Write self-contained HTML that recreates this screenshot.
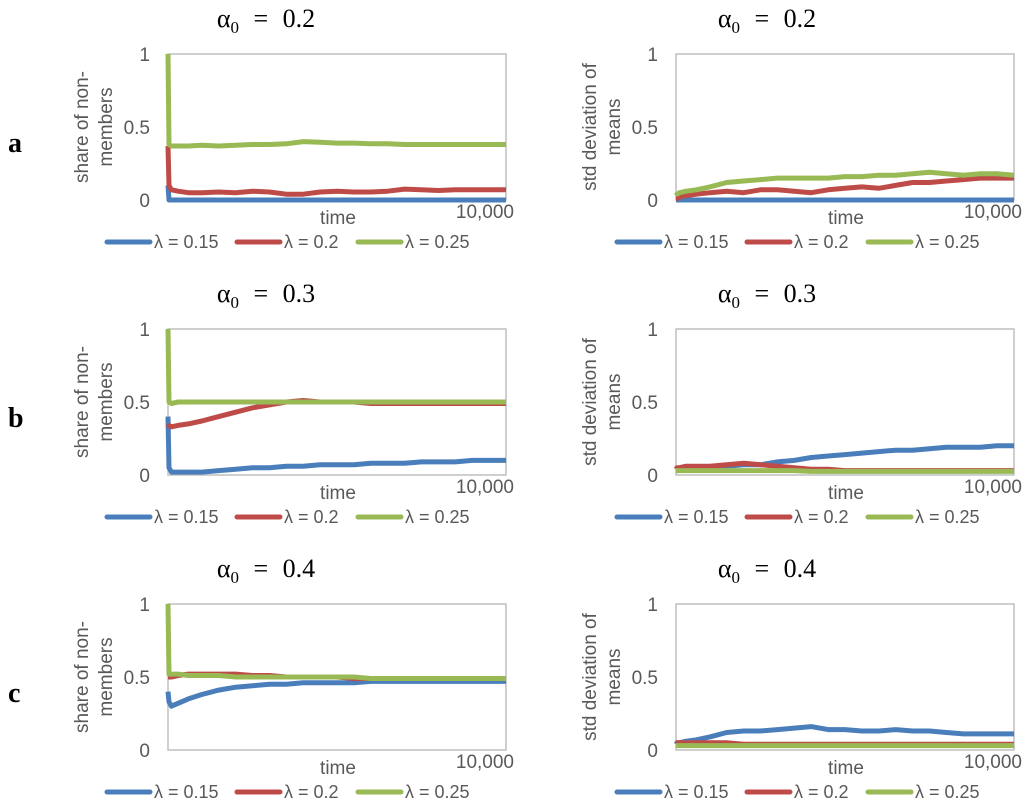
<!DOCTYPE html>
<html><head><meta charset="utf-8"><style>
body{margin:0;background:#fff;width:1024px;height:806px;overflow:hidden}
svg{display:block}
text{font-family:"Liberation Sans",sans-serif;fill:#595959}
.ttl{font-family:"Liberation Serif","DejaVu Serif",serif;fill:#000;font-size:26px;word-spacing:8px}
.let{font-family:"Liberation Serif",serif;fill:#000;font-size:28px;font-weight:bold}
</style></head><body>
<svg id="chart" width="1024" height="806"></svg>
<script>
const times=[0,30,100,300,600,1000,1500,2000,2500,3000,3500,4000,4500,5000,5500,6000,6500,7000,7500,8000,8500,9000,9500,10000];
const seriesNames=["λ = 0.15","λ = 0.2","λ = 0.25"];
const yTicks=[0,0.5,1];
const yTickLabels=["0","0.5","1"];
const alphaLabels=["0.2","0.3","0.4"];
const rowLetters=["a","b","c"];
// a-left
const aL_blue=[0.1,0,0,0,0,0,0,0,0,0,0,0,0,0,0,0,0,0,0,0,0,0,0,0];
const aL_red=[0.37,0.1,0.07,0.06,0.05,0.05,0.055,0.05,0.06,0.055,0.04,0.04,0.055,0.06,0.055,0.055,0.06,0.075,0.07,0.065,0.07,0.07,0.07,0.07];
const aL_green=[1,0.38,0.37,0.37,0.37,0.375,0.37,0.375,0.38,0.38,0.385,0.4,0.395,0.39,0.39,0.385,0.385,0.38,0.38,0.38,0.38,0.38,0.38,0.38];
// a-right
const aR_blue=[0,0,0,0,0,0,0,0,0,0,0,0,0,0,0,0,0,0,0,0,0,0,0,0];
const aR_red=[0.01,0.01,0.02,0.03,0.04,0.05,0.06,0.05,0.07,0.07,0.06,0.05,0.07,0.08,0.09,0.08,0.1,0.12,0.12,0.13,0.14,0.15,0.15,0.15];
const aR_green=[0.03,0.04,0.05,0.06,0.07,0.09,0.12,0.13,0.14,0.15,0.15,0.15,0.15,0.16,0.16,0.17,0.17,0.18,0.19,0.18,0.17,0.18,0.18,0.17];
// b-left
const bL_blue=[0.4,0.05,0.02,0.02,0.02,0.02,0.03,0.04,0.05,0.05,0.06,0.06,0.07,0.07,0.07,0.08,0.08,0.08,0.09,0.09,0.09,0.1,0.1,0.1];
const bL_red=[0.35,0.34,0.33,0.34,0.35,0.37,0.4,0.43,0.46,0.48,0.5,0.51,0.5,0.5,0.5,0.49,0.49,0.49,0.49,0.49,0.49,0.49,0.49,0.49];
const bL_green=[1,0.5,0.49,0.5,0.5,0.5,0.5,0.5,0.5,0.5,0.5,0.5,0.5,0.5,0.5,0.5,0.5,0.5,0.5,0.5,0.5,0.5,0.5,0.5];
// b-right
const bR_blue=[0.03,0.03,0.04,0.04,0.05,0.05,0.06,0.07,0.07,0.09,0.1,0.12,0.13,0.14,0.15,0.16,0.17,0.17,0.18,0.19,0.19,0.19,0.2,0.2];
const bR_red=[0.04,0.05,0.05,0.06,0.06,0.06,0.07,0.08,0.07,0.06,0.05,0.04,0.04,0.03,0.03,0.03,0.03,0.03,0.03,0.03,0.03,0.03,0.03,0.03];
const bR_green=[0.03,0.03,0.03,0.03,0.03,0.03,0.03,0.03,0.03,0.03,0.03,0.025,0.025,0.025,0.025,0.025,0.025,0.025,0.025,0.025,0.025,0.025,0.025,0.025];
// c-left
const cL_blue=[0.4,0.33,0.3,0.32,0.35,0.38,0.41,0.43,0.44,0.45,0.45,0.46,0.46,0.46,0.46,0.47,0.47,0.47,0.47,0.47,0.47,0.47,0.47,0.47];
const cL_red=[0.5,0.5,0.5,0.51,0.52,0.52,0.52,0.52,0.51,0.51,0.5,0.5,0.5,0.5,0.49,0.49,0.49,0.49,0.49,0.49,0.49,0.49,0.49,0.49];
const cL_green=[1,0.52,0.52,0.52,0.51,0.51,0.51,0.5,0.5,0.5,0.5,0.5,0.5,0.5,0.5,0.49,0.49,0.49,0.49,0.49,0.49,0.49,0.49,0.49];
// c-right
const cR_blue=[0.04,0.05,0.05,0.06,0.07,0.09,0.12,0.13,0.13,0.14,0.15,0.16,0.14,0.14,0.13,0.13,0.14,0.13,0.13,0.12,0.11,0.11,0.11,0.11];
const cR_red=[0.05,0.05,0.05,0.05,0.05,0.05,0.05,0.04,0.04,0.04,0.04,0.04,0.04,0.04,0.04,0.04,0.04,0.04,0.04,0.04,0.04,0.04,0.04,0.04];
const cR_green=[0.03,0.03,0.03,0.03,0.03,0.03,0.03,0.03,0.03,0.03,0.03,0.03,0.03,0.03,0.03,0.03,0.03,0.03,0.03,0.03,0.03,0.03,0.03,0.03];

const colors=["#4a7ebb","#be4b48","#98b954"];
const svg=document.getElementById('chart');
const NS="http://www.w3.org/2000/svg";
function mk(tag,attrs,parent){const e=document.createElementNS(NS,tag);for(const k in attrs)e.setAttribute(k,attrs[k]);(parent||svg).appendChild(e);return e;}
function txt(s,x,y,attrs,parent){const e=mk('text',Object.assign({x:x,y:y},attrs),parent);e.textContent=s;return e;}

const panels=[
 {r:0,c:0,d:[aL_blue,aL_red,aL_green]},{r:0,c:1,d:[aR_blue,aR_red,aR_green]},
 {r:1,c:0,d:[bL_blue,bL_red,bL_green]},{r:1,c:1,d:[bR_blue,bR_red,bR_green]},
 {r:2,c:0,d:[cL_blue,cL_red,cL_green]},{r:2,c:1,d:[cR_blue,cR_red,cR_green]}];
const rowTop=[54,329,604], colLeft=[168,676];
const W=338,H=146;
const yTitles=[["share of non-","members"],["std deviation of","means"]];
const legX=[[107,237,358],[617,747,868]];

rowLetters.forEach((l,i)=>{
 const t=txt(l,8,152+i*275,{class:'let'});
 
 
});

panels.forEach(p=>{
 const g=mk('g',{});
 
 
 const x0=colLeft[p.c], y0=rowTop[p.r];
 const sx=t=>x0+t/10000*W;
 const sy=v=>y0+H-v*H;
 const t=mk('text',{x:x0+W*0.29+(p.c?-7:0),y:y0-27,class:'ttl','text-anchor':'middle'},g);
 t.innerHTML='α<tspan dy="6" font-size="17">0</tspan><tspan dy="-6"> = '+alphaLabels[p.r]+'</tspan>';
 
 
 const box=mk('rect',{x:x0,y:y0,width:W,height:H,fill:'none',stroke:'#bfbfbf','stroke-width':1.5},g);
 
 
 yTicks.forEach((v,i)=>{
  const tk=txt(yTickLabels[i],x0-18,sy(v)+7,{'font-size':19,'text-anchor':'end'},g);
  
  
 });
 const yt=mk('text',{transform:'translate('+(x0-76)+','+(y0+H/2)+') rotate(-90)','font-size':19,'text-anchor':'middle'},g);
 yt.innerHTML='<tspan x="0" dy="-4">'+yTitles[p.c][0]+'</tspan><tspan x="0" dy="24">'+yTitles[p.c][1]+'</tspan>';
 
 
 const xt=txt('time',x0+170,y0+H+24,{'font-size':19,'text-anchor':'middle'},g);
 
 
 const xe=txt('10,000',x0+W+8,y0+H+18,{'font-size':19,'text-anchor':'end'},g);
 
 
 p.d.forEach((vals,si)=>{
  const pts=vals.map((v,i)=>sx(times[i]).toFixed(1)+','+sy(v).toFixed(1)).join(' ');
  const pl=mk('polyline',{points:pts,fill:'none',stroke:colors[si],'stroke-width':5,'stroke-linejoin':'round'},g);
  
  
 });
 const ly=y0+H+42;
 seriesNames.forEach((n,si)=>{
  const lx=legX[p.c][si];
  const lg=mk('g',{},g);
  
  
  mk('line',{x1:lx,y1:ly,x2:lx+43,y2:ly,stroke:colors[si],'stroke-width':5,'stroke-linecap':'round'},lg);
  txt(n,lx+47,ly+6,{'font-size':18},lg);
 });
});
</script>
</body></html>
